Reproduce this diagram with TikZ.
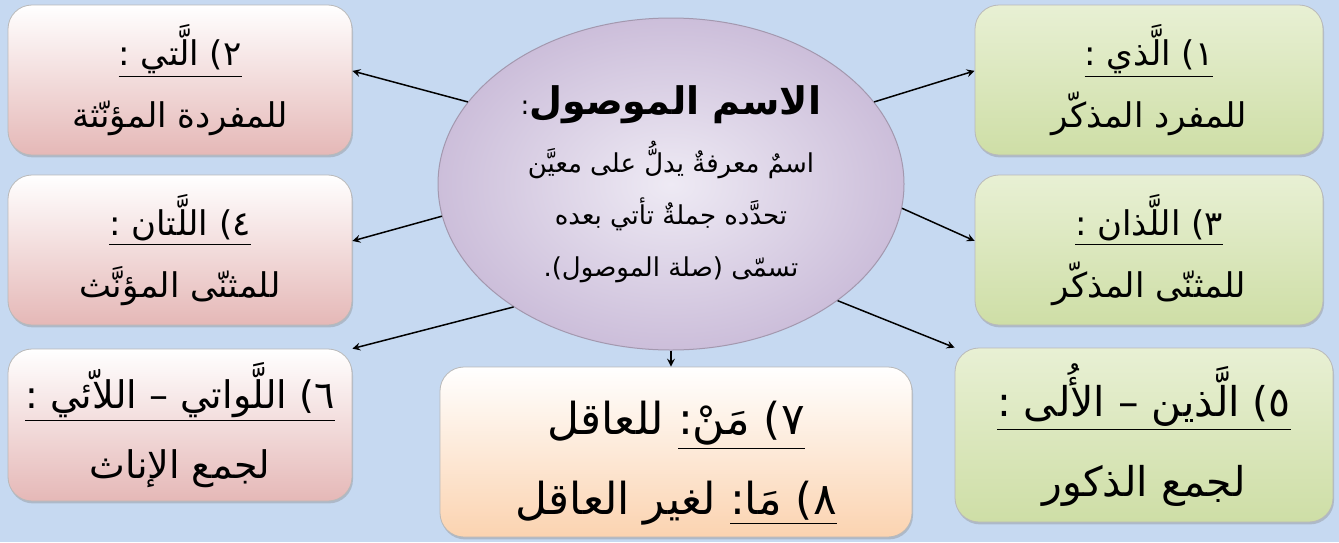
\documentclass[tikz,border=0pt]{standalone}
\usepackage{fontspec}
\newfontfamily\arabicfont[Script=Arabic]{DejaVu Sans}
\TeXXeTstate=1
\usepackage{xcolor}
\usepackage{tikz}
\usetikzlibrary{shapes.geometric,shadows}
\definecolor{bgblue}{RGB}{198,217,241}
\definecolor{pinkbot}{RGB}{229,184,183}
\definecolor{greenbot}{RGB}{206,222,166}
\definecolor{greentop}{RGB}{232,240,212}
\definecolor{orangebot}{RGB}{251,211,176}
\definecolor{lilac}{RGB}{204,190,218}
\definecolor{lilaclight}{RGB}{238,234,244}
\newcommand{\rtl}[1]{\beginR #1\endR}
\newcommand{\rlm}{^^^^200f}

\begin{document}
\begin{tikzpicture}[x=0.5pt,y=-0.5pt,
  box/.style={rectangle,rounded corners=12pt,draw=gray!55,line width=0.4pt,align=center,
    inner sep=0pt,font=\arabicfont\fontsize{17}{31}\selectfont,
    drop shadow={shadow xshift=0.5pt,shadow yshift=-1.2pt,opacity=0.35}},
  pinkbox/.style={box,top color=white,bottom color=pinkbot,minimum width=172pt,minimum height=75pt},
  greenbox/.style={box,top color=greentop,bottom color=greenbot,minimum width=174pt,minimum height=75pt},
  link/.style={->,>=stealth,line width=0.75pt}]
\useasboundingbox(0,0)rectangle(1339,542);
\fill[bgblue](0,0)rectangle(1339,542);
% the centre
\node[ellipse,draw=lilac!80!black,line width=0.5pt,inner sep=0pt,minimum width=233pt,minimum height=166pt,
  inner color=lilaclight,outer color=lilac,align=center,font=\arabicfont\fontsize{13}{26}\selectfont]
  (ell) at (671,184) {\rtl{{\bfseries\fontsize{19}{26}\selectfont الاسم الموصول}:}\\[3pt]
  \rtl{اسمٌ معرفةٌ يدلُّ على معيَّن}\\ \rtl{تحدَّده جملةٌ تأتي بعده}\\ \rtl{تسمّى (صلة الموصول).}};
% the boxes
\node[greenbox](b1) at (1149,80){\underline{\rtl{\rlm١) الَّذي :}}\\ \rtl{للمفرد المذكّر}};
\node[pinkbox](b2) at (180,80){\underline{\rtl{\rlm٢) الَّتي :}}\\ \rtl{للمفردة المؤنّثة}};
\node[greenbox](b3) at (1149,250){\underline{\rtl{\rlm٣) اللَّذان :}}\\ \rtl{للمثنّى المذكّر}};
\node[pinkbox](b4) at (180,250){\underline{\rtl{\rlm٤) اللَّتان :}}\\ \rtl{للمثنّى المؤنَّث}};
\node[greenbox,minimum width=189pt,minimum height=87pt,font=\arabicfont\fontsize{20.5}{40}\selectfont](b5) at (1144,435)
  {\underline{\rtl{\rlm٥) الَّذين – الأُلى :}}\\ \rtl{لجمع الذكور}};
\node[pinkbox,minimum height=76pt,font=\arabicfont\fontsize{19}{35}\selectfont](b6) at (180,425)
  {\underline{\rtl{\rlm٦) اللَّواتي – اللاّئي :}}\\ \rtl{لجمع الإناث}};
\node[box,top color=white,bottom color=orangebot,minimum width=236pt,minimum height=85pt,
  font=\arabicfont\fontsize{22}{40}\selectfont](b7) at (676,452)
  {\rule{0pt}{28pt}\rtl{\underline{\rtl{\rlm٧) مَنْ:}} للعاقل}\\ \rtl{\underline{\rtl{\rlm٨) مَا:}} لغير العاقل}};
% arrows
\draw[link](ell.22)--(b1.177);
\draw[link](ell.158)--(b2.3);
\draw[link](ell.354)--(b3.177);
\draw[link](ell.188)--(b4.3);
\draw[link](ell.325)--(b5.north west);
\draw[link](ell.218)--(b6.north east);
\draw[link](ell.south)--(ell.south|-b7.north);
\end{tikzpicture}
\end{document}
